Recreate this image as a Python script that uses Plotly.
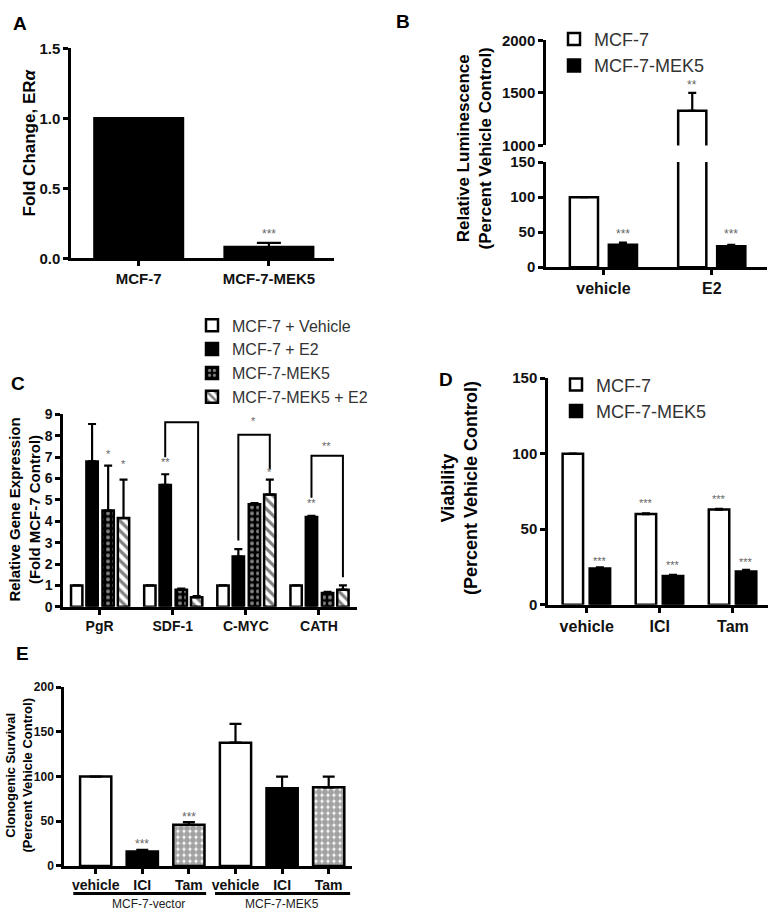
import plotly.graph_objects as go

W, H = 775, 922
def px(x):
    return x / W
def py(y):
    return 1 - y / H

# ---------------- data ----------------
# Panel A
a_categories = ["MCF-7", "MCF-7-MEK5"]
a_values = [1.0, 0.08]
a_errors = [0.0, 0.03]
a_stars = ["", "***"]

# Panel B
b_categories = ["vehicle", "E2"]
b_mcf7 = [100, 1330]
b_mcf7_err = [0, 170]
b_mek5 = [32, 30]
b_mek5_err = [3, 2]

# Panel C
c_genes = ["PgR", "SDF-1", "C-MYC", "CATH"]
c_vehicle = [1, 1, 1, 1]
c_e2 = [6.8, 5.7, 2.35, 4.2]
c_e2_err = [1.75, 0.5, 0.35, 0.05]
c_mek5 = [4.5, 0.8, 4.8, 0.65]
c_mek5_err = [2.1, 0.05, 0.05, 0.05]
c_mek5e2 = [4.15, 0.45, 5.25, 0.8]
c_mek5e2_err = [1.8, 0.05, 0.7, 0.2]

# Panel D
d_treatments = ["vehicle", "ICI", "Tam"]
d_mcf7 = [100, 60, 63]
d_mcf7_err = [0, 0.5, 0.5]
d_mek5 = [24, 19, 22]
d_mek5_err = [0.8, 0.8, 1.2]

# Panel E
e_labels = ["vehicle", "ICI", "Tam", "vehicle", "ICI", "Tam"]
e_groups = ["MCF-7-vector", "MCF-7-MEK5"]
e_values = [100, 16, 46, 138, 87, 88]
e_errors = [0, 2, 3, 21, 13, 12]

# ---------------- styling helpers ----------------
FONT = "Liberation Sans"
LW = 2.5

def err(vals, w):
    return dict(type="data", array=vals, arrayminus=[0] * len(vals), symmetric=False,
                color="black", thickness=2.2, width=w)

def bar(x, y, e, color, xa, ya, off, wid, name=None, legend=None, show=False,
        pattern=None, ew=4):
    m = dict(color=color, line=dict(color="black", width=LW))
    if pattern:
        m["pattern"] = pattern
    return go.Bar(x=x, y=y, error_y=err(e, ew), marker=m, xaxis=xa, yaxis=ya,
                  offset=off, width=wid, name=name, showlegend=show,
                  legend=legend if legend else "legend", cliponaxis=True)

checker = dict(shape=".", fgcolor="white", bgcolor="black", size=6, solidity=0.35)
hatch = dict(shape="\\", fgcolor="black", bgcolor="white", size=7, solidity=0.45)

fig = go.Figure()

# Panel A
ia = list(range(len(a_categories)))
fig.add_trace(bar(ia, a_values, a_errors, "black", "x", "y", -0.34, 0.68, ew=12))

# Panel B (broken axis: upper x2/y2, lower x3/y3)
ib = list(range(len(b_categories)))
fig.add_trace(bar(ib, b_mcf7, b_mcf7_err, "white", "x2", "y2", -0.31, 0.26,
                  name="MCF-7", legend="legend", show=True))
fig.add_trace(bar(ib, b_mek5, b_mek5_err, "black", "x2", "y2", 0.05, 0.26,
                  name="MCF-7-MEK5", legend="legend", show=True))
fig.add_trace(bar(ib, b_mcf7, b_mcf7_err, "white", "x3", "y3", -0.31, 0.26))
fig.add_trace(bar(ib, b_mek5, b_mek5_err, "black", "x3", "y3", 0.05, 0.26))

# Panel C
ic = list(range(len(c_genes)))
c_off = [-0.39, -0.18, 0.04, 0.25]
c_w = 0.155
fig.add_trace(bar(ic, c_vehicle, [0] * 4, "white", "x4", "y4", c_off[0], c_w,
                  name="MCF-7 + Vehicle", legend="legend2", show=True))
fig.add_trace(bar(ic, c_e2, c_e2_err, "black", "x4", "y4", c_off[1], c_w,
                  name="MCF-7 + E2", legend="legend2", show=True))
fig.add_trace(bar(ic, c_mek5, c_mek5_err, "black", "x4", "y4", c_off[2], c_w,
                  name="MCF-7-MEK5", legend="legend2", show=True, pattern=checker))
fig.add_trace(bar(ic, c_mek5e2, c_mek5e2_err, "white", "x4", "y4", c_off[3], c_w,
                  name="MCF-7-MEK5 + E2", legend="legend2", show=True, pattern=hatch))

# Panel D
idd = list(range(len(d_treatments)))
fig.add_trace(bar(idd, d_mcf7, d_mcf7_err, "white", "x5", "y5", -0.33, 0.28,
                  name="MCF-7", legend="legend3", show=True))
fig.add_trace(bar(idd, d_mek5, d_mek5_err, "black", "x5", "y5", 0.04, 0.28,
                  name="MCF-7-MEK5", legend="legend3", show=True))

# Panel E
ie = list(range(len(e_labels)))
e_colors = ["white", "black", "white", "white", "black", "white"]
e_shapes = ["", "", ".", "", "", "."]
fig.add_trace(go.Bar(
    x=ie, y=e_values, error_y=err(e_errors, 6), xaxis="x6", yaxis="y6",
    offset=-0.335, width=0.67, showlegend=False,
    marker=dict(color=e_colors, line=dict(color="black", width=LW),
                pattern=dict(shape=e_shapes, fgcolor="black", bgcolor="white",
                             size=6, solidity=0.75))))

# ---------------- axes ----------------
def xax(dom, rng, tickvals, ticktext, size, visible=True, ticks="outside"):
    return dict(domain=[px(dom[0]), px(dom[1])], range=rng, tickvals=tickvals,
                ticktext=ticktext, showline=True, linecolor="black", linewidth=LW,
                ticks=ticks, ticklen=5, tickwidth=LW, tickcolor="black",
                showgrid=False, zeroline=False, visible=visible, fixedrange=True,
                tickfont=dict(family=FONT, size=size, color="#111", weight="bold"))

def yax(dom, rng, tickvals, size, fmt=None):
    d = dict(domain=[py(dom[1]), py(dom[0])], range=rng, tickvals=tickvals,
             showline=True, linecolor="black", linewidth=LW, ticks="outside",
             ticklen=5, tickwidth=LW, tickcolor="black", showgrid=False,
             zeroline=False, fixedrange=True,
             tickfont=dict(family=FONT, size=size, color="#111", weight="bold"))
    if fmt:
        d["tickformat"] = fmt
    return d

layout = dict(
    width=W, height=H, margin=dict(l=0, r=0, t=0, b=0),
    paper_bgcolor="white", plot_bgcolor="white", barmode="overlay",
    xaxis=dict(xax((71, 334), [-0.52, 1.5], ia, a_categories, 15), anchor="y"),
    yaxis=dict(yax((40, 254), [0, 1.5], [0, 0.5, 1.0, 1.5], 15, ".1f"), anchor="x"),
    xaxis2=dict(xax((546, 767), [-0.53, 1.51], ib, b_categories, 16, visible=False), anchor="y2"),
    yaxis2=dict(yax((32, 139), [1000, 2000], [1000, 1500, 2000], 15), anchor="x2"),
    xaxis3=dict(xax((546, 767), [-0.53, 1.51], ib, b_categories, 16), anchor="y3"),
    yaxis3=dict(yax((156, 263), [0, 150], [0, 50, 100, 150], 15), anchor="x3"),
    xaxis4=dict(xax((63, 357), [-0.5, 3.52], ic, c_genes, 14), anchor="y4"),
    yaxis4=dict(yax((413, 609), [0, 9], list(range(10)), 14), anchor="x4"),
    xaxis5=dict(xax((548, 768), [-0.53, 2.48], idd, d_treatments, 16), anchor="y5"),
    yaxis5=dict(yax((376, 607), [0, 150], [0, 50, 100, 150], 15), anchor="x5"),
    xaxis6=dict(xax((64, 352), [-0.68, 5.5], ie, e_labels, 14), anchor="y6"),
    yaxis6=dict(yax((691, 873), [0, 200], [0, 50, 100, 150, 200], 12), anchor="x6"),
    legend=dict(x=px(554), y=py(12), xanchor="left", yanchor="top",
                font=dict(family=FONT, size=18, color="#333"), bgcolor="rgba(0,0,0,0)",
                tracegroupgap=0, itemwidth=30),
    legend2=dict(x=px(192), y=py(305), xanchor="left", yanchor="top",
                 font=dict(family=FONT, size=16, color="#333"), bgcolor="rgba(0,0,0,0)",
                 tracegroupgap=0, itemwidth=30),
    legend3=dict(x=px(556), y=py(364), xanchor="left", yanchor="top",
                 font=dict(family=FONT, size=18, color="#333"), bgcolor="rgba(0,0,0,0)",
                 tracegroupgap=0, itemwidth=30),
)
fig.update_layout(**layout)

annotations = []
shapes = []

def star(xa, ya, x, y, text, size=10):
    annotations.append(dict(xref=xa, yref=ya, x=x, y=y, text=text, showarrow=False,
                            font=dict(family=FONT, size=size, color="#666"),
                            yanchor="middle"))

def ptext(x, y, text, size, bold=True, angle=0, color="black", anchor="center"):
    annotations.append(dict(xref="paper", yref="paper", x=px(x), y=py(y), text=text,
                            showarrow=False, textangle=angle, xanchor=anchor,
                            yanchor="middle",
                            font=dict(family=FONT, size=size, color=color,
                                      weight="bold" if bold else "normal")))

# panel letters
ptext(20, 15, "A", 19)
ptext(403, 13, "B", 19)
ptext(18, 382, "C", 19)
ptext(446, 377, "D", 19)
ptext(22, 657, "E", 19)

# y-axis titles
ptext(29, 136, "Fold Change, ER<i>α</i>", 17, angle=-90)
ptext(474, 142, "Relative Luminescence<br>(Percent Vehicle Control)", 17, angle=-90)
ptext(25, 510, "Relative Gene Expression<br>(Fold MCF-7 Control)", 15, angle=-90)
ptext(459, 488, "Viability<br>(Percent Vehicle Control)", 18, angle=-90)
ptext(19, 781, "Clonogenic Survival<br>(Percent Vehicle Control)", 13, angle=-90)

# stars A
star("x", "y", 1, 0.175, a_stars[1], 12)
# stars B
star("x2", "y2", 1 - 0.18, 1575, "**", 12)
star("x3", "y3", 0.18, 47, "***", 12)
star("x3", "y3", 1.18, 47, "***", 12)
# stars C
cc = [o + c_w / 2 for o in c_off]
star("x4", "y4", 0 + cc[1], 9.2, "**", 11)
star("x4", "y4", 0 + cc[2], 7.15, "*", 11)
star("x4", "y4", 0 + cc[3], 6.7, "*", 11)
star("x4", "y4", 1 + cc[1], 6.75, "**", 11)
star("x4", "y4", 1.11, 9.2, "***", 11)
star("x4", "y4", 2.11, 8.7, "*", 11)
star("x4", "y4", 2 + cc[3], 6.3, "*", 11)
star("x4", "y4", 3 + cc[1], 4.85, "**", 11)
star("x4", "y4", 3.1, 7.5, "**", 11)

def bracket(xa, ya, x0, y0, x1, y1, ytop):
    shapes.append(dict(type="path", xref=xa, yref=ya,
                       path=f"M {x0},{y0} L {x0},{ytop} L {x1},{ytop} L {x1},{y1}",
                       line=dict(color="black", width=2)))

bracket("x4", "y4", 1 + cc[1], 7.0, 1 + cc[3] + 0.02, 0.55, 8.63)
bracket("x4", "y4", 2 + cc[1], 3.1, 2 + cc[3], 6.45, 8.05)
bracket("x4", "y4", 3 + cc[1], 5.1, 3 + cc[3], 1.38, 7.07)

# stars D
star("x5", "y5", 1 - 0.19, 67.5, "***", 11)
star("x5", "y5", 2 - 0.19, 70, "***", 11)
star("x5", "y5", 0 + 0.18, 29, "***", 11)
star("x5", "y5", 1 + 0.18, 26.5, "***", 11)
star("x5", "y5", 2 + 0.18, 28.5, "***", 11)

# stars E
star("x6", "y6", 1, 25, "***", 12)
star("x6", "y6", 2, 55, "***", 12)

# E group underlines + labels
for x0, x1, lab, xc in [(-0.48, 2.37, e_groups[0], 1.13), (2.56, 5.46, e_groups[1], 4.0)]:
    shapes.append(dict(type="line", xref="x6", yref="paper", x0=x0, x1=x1,
                       y0=py(901), y1=py(901), line=dict(color="black", width=3)))
    annotations.append(dict(xref="x6", yref="paper", x=xc, y=py(912), text=lab,
                            showarrow=False, yanchor="middle",
                            font=dict(family=FONT, size=12, color="#222")))

fig.update_layout(annotations=annotations, shapes=shapes)
fig.write_html("out.html", config={"displayModeBar": False},
               post_script="document.body.style.margin='0';")
